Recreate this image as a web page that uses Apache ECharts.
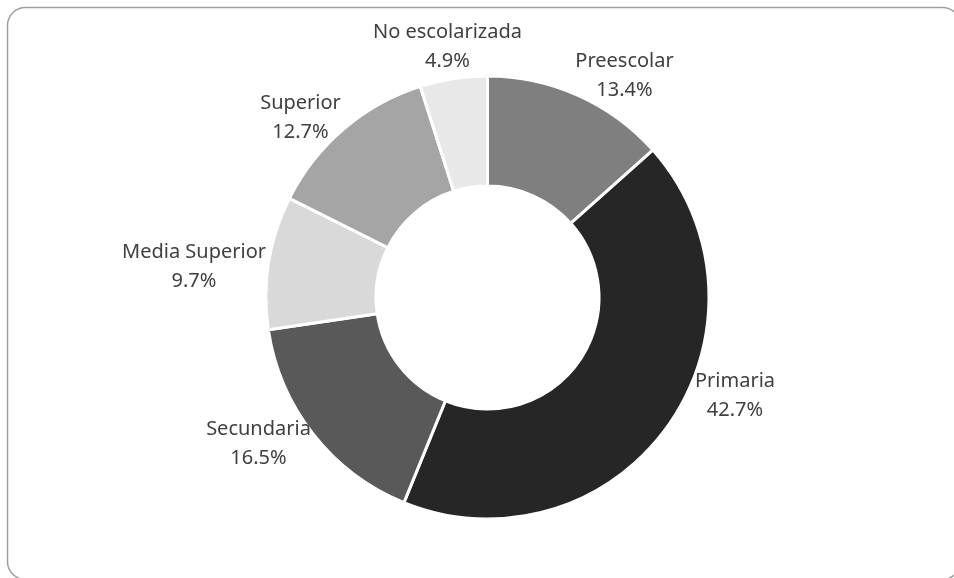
<!DOCTYPE html>
<html>
<head>
<meta charset="utf-8">
<script src="https://cdn.jsdelivr.net/npm/echarts@6/dist/echarts.min.js"></script>
<style>
  html, body { margin: 0; padding: 0; background: #ffffff; }
  #chart { width: 954px; height: 578px; }
</style>
</head>
<body>
<div id="chart"></div>
<script>
// Distribución por nivel educativo (porcentaje)
const categories = ['Preescolar', 'Primaria', 'Secundaria', 'Media Superior', 'Superior', 'No escolarizada'];
const shares = [13.4, 42.7, 16.5, 9.7, 12.7, 4.9];
const sliceColors = ['#7f7f7f', '#262626', '#595959', '#d9d9d9', '#a5a5a5', '#e8e8e8'];

// Donut geometry
const pieCenter = [487.5, 297.5];

// Where each label block sits, as an offset from the donut centre
const labelOffsets = {
  'Preescolar': [137, -222],
  'Primaria': [247.5, 98],
  'Secundaria': [-229, 146],
  'Media Superior': [-293.5, -31],
  'Superior': [-187, -180],
  'No escolarizada': [-40, -251]
};

const chart = echarts.init(document.getElementById('chart'), null, { renderer: 'canvas' });

chart.setOption({
  backgroundColor: '#ffffff',
  animation: false,
  graphic: [{
    type: 'rect',
    shape: { x: 7.5, y: 7.5, width: 953, height: 572, r: 18 },
    style: { fill: 'none', stroke: '#a0a0a0', lineWidth: 1.5 },
    silent: true
  }],
  series: [{
    type: 'pie',
    center: pieCenter,
    radius: [111.5, 221.5],
    startAngle: 90,
    clockwise: true,
    avoidLabelOverlap: false,
    itemStyle: { borderColor: '#ffffff', borderWidth: 3 },
    label: {
      show: true,
      position: 'outside',
      formatter: p => p.name + '\n' + p.value.toFixed(1) + '%',
      fontFamily: '"Noto Sans", sans-serif',
      fontSize: 20,
      lineHeight: 29,
      color: '#404040',
      align: 'center'
    },
    labelLine: { show: false },
    labelLayout: params => {
      const off = labelOffsets[categories[params.dataIndex]];
      return {
        x: pieCenter[0] + off[0],
        y: pieCenter[1] + off[1],
        align: 'center',
        verticalAlign: 'middle'
      };
    },
    emphasis: { disabled: true },
    data: categories.map((name, i) => ({
      name: name,
      value: shares[i],
      itemStyle: { color: sliceColors[i] }
    }))
  }]
});
</script>
</body>
</html>
